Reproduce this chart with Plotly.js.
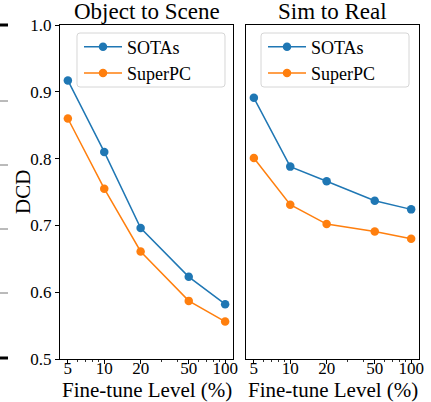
<!DOCTYPE html>
<html>
<head>
<meta charset="utf-8">
<script src="https://cdn.plot.ly/plotly-3.0.1.min.js"></script>
<style>html,body{margin:0;padding:0;background:#fff;}#chart{width:431px;height:402px;}</style>
</head>
<body>
<div id="chart"></div>
<script>
// ---- data ----
const levels = [5, 10, 20, 50, 100];
const objSceneSOTAs   = [0.917, 0.810, 0.696, 0.623, 0.582];
const objSceneSuperPC = [0.860, 0.755, 0.661, 0.587, 0.556];
const simRealSOTAs    = [0.891, 0.788, 0.766, 0.737, 0.724];
const simRealSuperPC  = [0.801, 0.731, 0.702, 0.691, 0.680];
const panelTitles = ["Object to Scene", "Sim to Real"];
const seriesNames = ["SOTAs", "SuperPC"];
const xTitle = "Fine-tune Level (%)";
const yTitle = "DCD";
const xTickVals = [5, 10, 20, 50, 100];
const xTickText = ["5", "10", "20", "50", "100"];
const xMinorVals = [6, 7, 8, 9, 30, 40, 60, 70, 80, 90];
const yTickVals = [0.5, 0.6, 0.7, 0.8, 0.9, 1.0];

const FONT = "Liberation Serif";
const BLUE = "#1f77b4", ORANGE = "#ff7f0e";
const W = 431, H = 402;
const px = v => v / W, py = v => 1 - v / H;

function tr(y, name, color, xa, ya, leg) {
  return {x: levels, y: y, name: name, type: "scatter", mode: "lines+markers",
    xaxis: xa, yaxis: ya, legend: leg,
    line: {color: color, width: 1.5}, marker: {color: color, size: 8.5}};
}
const data = [
  tr(objSceneSOTAs, seriesNames[0], BLUE, "x", "y", "legend"),
  tr(objSceneSuperPC, seriesNames[1], ORANGE, "x", "y", "legend"),
  tr(simRealSOTAs, seriesNames[0], BLUE, "x2", "y2", "legend2"),
  tr(simRealSuperPC, seriesNames[1], ORANGE, "x2", "y2", "legend2")
];

const xr = [Math.log10(5) - 0.065, Math.log10(100) + 0.065];
function xaxis(dom, anchor) {
  return {domain: dom, anchor: anchor, type: "log", range: xr,
    tickmode: "array", tickvals: xTickVals, ticktext: xTickText,
    ticks: "outside", ticklen: 4, tickwidth: 1, tickcolor: "#000",
    ticklabelstandoff: -10,
    minor: {tickvals: xMinorVals, ticks: "outside", ticklen: 2, tickwidth: 0.8, tickcolor: "#000"},
    showline: true, linecolor: "#000", linewidth: 1, mirror: true,
    showgrid: false, zeroline: false,
    tickfont: {family: FONT, size: 17, color: "#000"}};
}
function yaxis(anchor, labels) {
  return {domain: [py(359), py(25)], anchor: anchor, range: [0.5, 1.0],
    tickmode: "array", tickvals: yTickVals, tickformat: ".1f",
    showticklabels: labels, ticks: labels ? "outside" : "", ticklen: 4, tickwidth: 1, tickcolor: "#000",
    showline: true, linecolor: "#000", linewidth: 1, mirror: true,
    showgrid: false, zeroline: false,
    tickfont: {family: FONT, size: 17, color: "#000"}};
}
function legend(x0) {
  return {x: px(x0), y: py(28.5), xanchor: "left", yanchor: "top", xref: "paper", yref: "paper",
    bgcolor: "rgba(0,0,0,0)", borderwidth: 0, itemwidth: 38,
    font: {family: FONT, size: 18, color: "#000"}, tracegroupgap: 0};
}

// rounded legend frames (pixel box -> paper path)
function roundRect(x0, y0, x1, y1, r) {
  const X = v => px(v).toFixed(5), Y = v => py(v).toFixed(5);
  return `M${X(x0 + r)},${Y(y0)} L${X(x1 - r)},${Y(y0)} Q${X(x1)},${Y(y0)} ${X(x1)},${Y(y0 + r)} ` +
    `L${X(x1)},${Y(y1 - r)} Q${X(x1)},${Y(y1)} ${X(x1 - r)},${Y(y1)} L${X(x0 + r)},${Y(y1)} ` +
    `Q${X(x0)},${Y(y1)} ${X(x0)},${Y(y1 - r)} L${X(x0)},${Y(y0 + r)} Q${X(x0)},${Y(y0)} ${X(x0 + r)},${Y(y0)} Z`;
}
const shapes = [
  {type: "path", xref: "paper", yref: "paper", path: roundRect(77, 33, 225, 87, 3),
    fillcolor: "rgba(255,255,255,0.8)", line: {color: "#d6d6d6", width: 1}, layer: "above"},
  {type: "path", xref: "paper", yref: "paper", path: roundRect(261, 33, 409, 87, 3),
    fillcolor: "rgba(255,255,255,0.8)", line: {color: "#d6d6d6", width: 1}, layer: "above"}
];
[[25, 3, "#000"], [101, 1, "#777"], [165, 1, "#777"], [229, 1, "#777"], [293, 1, "#777"], [358, 3, "#000"]]
  .forEach(a => shapes.push({type: "line", xref: "paper", yref: "paper",
    x0: 0, x1: px(8), y0: py(a[0]), y1: py(a[0]), line: {color: a[2], width: a[1]}}));

const ann = [];
const centers = [(60 + 233) / 2, (246 + 419) / 2];
panelTitles.forEach((t, i) => {
  ann.push({text: t, x: px(centers[i]), y: py(12), xref: "paper", yref: "paper",
    xanchor: "center", yanchor: "middle", showarrow: false, font: {family: FONT, size: 23, color: "#000"}});
  ann.push({text: xTitle, x: px(centers[i]), y: py(390), xref: "paper", yref: "paper",
    xanchor: "center", yanchor: "middle", showarrow: false, font: {family: FONT, size: 21, color: "#000"}});
});
ann.push({text: yTitle, x: px(23), y: py(192), xref: "paper", yref: "paper", textangle: -90,
  xanchor: "center", yanchor: "middle", showarrow: false, font: {family: FONT, size: 21, color: "#000"}});

const layout = {
  width: W, height: H, margin: {l: 0, r: 0, t: 0, b: 0},
  paper_bgcolor: "#fff", plot_bgcolor: "rgba(0,0,0,0)", showlegend: true,
  xaxis: xaxis([px(60), px(233)], "y"),
  yaxis: yaxis("x", true),
  xaxis2: xaxis([px(246), px(419)], "y2"),
  yaxis2: yaxis("x2", false),
  legend: legend(79),
  legend2: legend(263),
  shapes: shapes, annotations: ann,
  font: {family: FONT, color: "#000"}
};
Plotly.newPlot("chart", data, layout, {displayModeBar: false, staticPlot: true});
</script>
</body>
</html>
